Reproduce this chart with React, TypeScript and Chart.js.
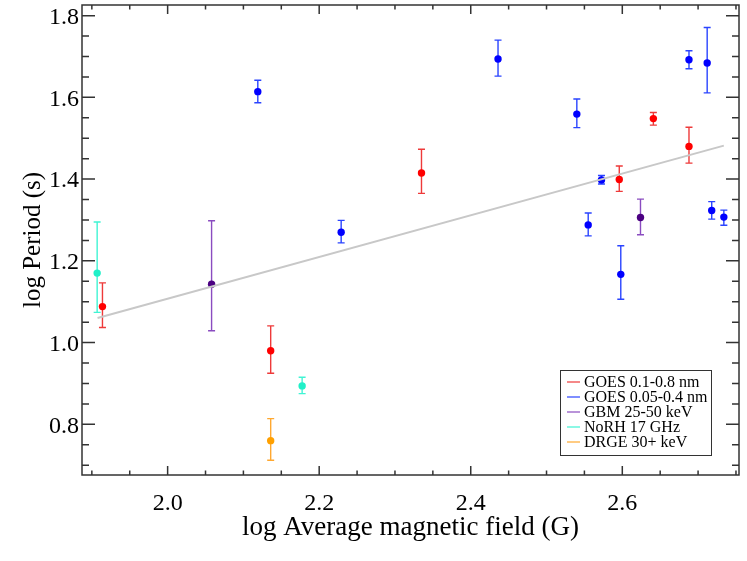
import { useEffect, useRef } from "react";
import { Chart, registerables } from "chart.js";

Chart.register(...registerables);

// ---- data (log B, log P, error low, error high) ----
const goes1X = [1.914, 2.136, 2.335, 2.596, 2.641, 2.688];
const goes1Y = [1.088, 0.98, 1.415, 1.399, 1.548, 1.48];
const goes1Lo = [1.037, 0.925, 1.365, 1.37, 1.532, 1.439];
const goes1Hi = [1.146, 1.041, 1.473, 1.432, 1.563, 1.527];

const goes2X = [2.119, 2.229, 2.436, 2.54, 2.555, 2.5725, 2.598, 2.688, 2.712, 2.718, 2.734];
const goes2Y = [1.614, 1.27, 1.694, 1.559, 1.288, 1.398, 1.167, 1.692, 1.684, 1.323, 1.307];
const goes2Lo = [1.587, 1.244, 1.652, 1.526, 1.261, 1.388, 1.106, 1.67, 1.611, 1.302, 1.287];
const goes2Hi = [1.642, 1.299, 1.74, 1.596, 1.317, 1.409, 1.237, 1.714, 1.771, 1.345, 1.324];

const gbmX = [2.058, 2.624];
const gbmY = [1.143, 1.306];
const gbmLo = [1.029, 1.264];
const gbmHi = [1.298, 1.351];

const norhX = [1.907, 2.1775];
const norhY = [1.17, 0.894];
const norhLo = [1.074, 0.875];
const norhHi = [1.295, 0.915];

const drgeX = [2.136];
const drgeY = [0.76];
const drgeLo = [0.712];
const drgeHi = [0.814];

const fitX = [1.9075, 2.734];
const fitY = [1.06, 1.482];

const xMajorTicks = [2.0, 2.2, 2.4, 2.6];
const xMinorTicks = [1.9, 1.95, 2.05, 2.1, 2.15, 2.25, 2.3, 2.35, 2.45, 2.5, 2.55, 2.65, 2.7, 2.75];
const yMajorTicks = [0.8, 1.0, 1.2, 1.4, 1.6, 1.8];
const yMinorTicks = [0.7, 0.75, 0.85, 0.9, 0.95, 1.05, 1.1, 1.15, 1.25, 1.3, 1.35, 1.45, 1.5, 1.55, 1.65, 1.7, 1.75];

const seriesNames = ["GOES 0.1-0.8 nm", "GOES 0.05-0.4 nm", "GBM 25-50 keV", "NoRH 17 GHz", "DRGE 30+ keV"];
const pointColors = ["#ff0000", "#0000ff", "#4b0082", "#20f0c8", "#ffa000"];
const barColors = ["#ee3a3a", "#2a44ff", "#8a4cc0", "#40f4d4", "#ffa830"];

const FONT = "'Liberation Serif', 'Times New Roman', serif";

function mk(xs: number[], ys: number[]) {
  return xs.map((x, i) => ({ x, y: ys[i] }));
}

const seriesLo = [goes1Lo, goes2Lo, gbmLo, norhLo, drgeLo];
const seriesHi = [goes1Hi, goes2Hi, gbmHi, norhHi, drgeHi];
const seriesX = [goes1X, goes2X, gbmX, norhX, drgeX];
const seriesY = [goes1Y, goes2Y, gbmY, norhY, drgeY];

const errorBarPlugin = {
  id: "errbars",
  beforeDatasetsDraw(chart: any) {
    const { ctx, scales } = chart;
    const xs = scales.x;
    const ys = scales.y;
    ctx.save();
    ctx.lineWidth = 1.4;
    for (let s = 0; s < seriesX.length; s++) {
      ctx.strokeStyle = barColors[s];
      for (let i = 0; i < seriesX[s].length; i++) {
        const px = xs.getPixelForValue(seriesX[s][i]);
        const pLo = ys.getPixelForValue(seriesLo[s][i]);
        const pHi = ys.getPixelForValue(seriesHi[s][i]);
        ctx.beginPath();
        ctx.moveTo(px, pLo);
        ctx.lineTo(px, pHi);
        ctx.moveTo(px - 3.5, pLo);
        ctx.lineTo(px + 3.5, pLo);
        ctx.moveTo(px - 3.5, pHi);
        ctx.lineTo(px + 3.5, pHi);
        ctx.stroke();
      }
    }
    ctx.restore();
  },
};

const framePlugin = {
  id: "frame",
  afterDraw(chart: any) {
    const { ctx, chartArea, scales } = chart;
    const { left, right, top, bottom } = chartArea;
    ctx.save();
    ctx.strokeStyle = "#333333";
    ctx.lineWidth = 1.5;
    ctx.strokeRect(left, top, right - left, bottom - top);
    ctx.beginPath();
    const xt = (v: number, len: number) => {
      const p = scales.x.getPixelForValue(v);
      ctx.moveTo(p, bottom);
      ctx.lineTo(p, bottom - len);
      ctx.moveTo(p, top);
      ctx.lineTo(p, top + len);
    };
    const yt = (v: number, len: number) => {
      const p = scales.y.getPixelForValue(v);
      ctx.moveTo(left, p);
      ctx.lineTo(left + len, p);
      ctx.moveTo(right, p);
      ctx.lineTo(right - len, p);
    };
    xMajorTicks.forEach((v) => xt(v, 9));
    xMinorTicks.forEach((v) => xt(v, 4.5));
    yMajorTicks.forEach((v) => yt(v, 13));
    yMinorTicks.forEach((v) => yt(v, 7));
    ctx.stroke();

    // legend
    const bx = 560, by = 370, bw = 151, bh = 85;
    ctx.fillStyle = "#ffffff";
    ctx.fillRect(bx, by, bw, bh);
    ctx.lineWidth = 1;
    ctx.strokeStyle = "#333333";
    ctx.strokeRect(bx + 0.5, by + 0.5, bw, bh);
    ctx.font = `16px ${FONT}`;
    ctx.textBaseline = "middle";
    ctx.textAlign = "left";
    seriesNames.forEach((name, i) => {
      const ry = by + 12 + i * 15;
      ctx.strokeStyle = barColors[i];
      ctx.lineWidth = 1.2;
      ctx.beginPath();
      ctx.moveTo(bx + 7, ry);
      ctx.lineTo(bx + 20, ry);
      ctx.stroke();
      ctx.fillStyle = "#000000";
      ctx.fillText(name, bx + 24, ry + 1);
    });
    ctx.restore();
  },
};

export default function App() {
  const ref = useRef<HTMLCanvasElement | null>(null);
  useEffect(() => {
    if (!ref.current) return;
    const datasets: any[] = [
      {
        type: "line",
        label: "fit",
        data: mk(fitX, fitY),
        borderColor: "#c8c8c8",
        borderWidth: 2,
        pointRadius: 0,
        fill: false,
      },
    ];
    seriesNames.forEach((name, s) => {
      datasets.push({
        type: "scatter",
        label: name,
        data: mk(seriesX[s], seriesY[s]),
        backgroundColor: pointColors[s],
        borderColor: pointColors[s],
        pointRadius: 3.7,
        pointBorderWidth: 0,
      });
    });
    const chart = new Chart(ref.current, {
      type: "scatter",
      data: { datasets },
      plugins: [errorBarPlugin, framePlugin],
      options: {
        animation: false,
        responsive: true,
        maintainAspectRatio: false,
        layout: { padding: { top: 5, right: 8, left: 0, bottom: 0 } },
        plugins: { legend: { display: false }, tooltip: { enabled: false } },
        scales: {
          x: {
            type: "linear",
            min: 1.887,
            max: 2.754,
            grid: { display: false, drawTicks: false, tickLength: 0 },
            border: { display: false },
            afterBuildTicks: (scale: any) => {
              scale.ticks = xMajorTicks.map((v) => ({ value: v }));
            },
            afterFit: (scale: any) => {
              scale.height = 86;
              scale.paddingLeft = 0;
              scale.paddingRight = 0;
            },
            ticks: {
              autoSkip: false,
              maxRotation: 0,
              padding: 14,
              color: "#000",
              font: { family: FONT, size: 24 },
              callback: (v: any) => Number(v).toFixed(1),
            },
            title: {
              display: true,
              text: "log Average magnetic field (G)",
              color: "#000",
              font: { family: FONT, size: 27 },
              padding: { top: 0, bottom: 17 },
            },
          },
          y: {
            type: "linear",
            min: 0.676,
            max: 1.826,
            grid: { display: false, drawTicks: false, tickLength: 0 },
            border: { display: false },
            afterBuildTicks: (scale: any) => {
              scale.ticks = yMajorTicks.map((v) => ({ value: v }));
            },
            afterFit: (scale: any) => {
              scale.width = 82;
              scale.paddingTop = 0;
              scale.paddingBottom = 0;
            },
            ticks: {
              autoSkip: false,
              padding: 3,
              labelOffset: 2,
              color: "#000",
              font: { family: FONT, size: 24 },
              callback: (v: any) => Number(v).toFixed(1),
            },
            title: {
              display: true,
              text: "log Period (s)",
              color: "#000",
              font: { family: FONT, size: 25 },
              padding: { top: 18, bottom: 0 },
            },
          },
        },
      },
    });
    return () => chart.destroy();
  }, []);
  return (
    <div style={{ position: "absolute", left: 0, top: 0, width: 747, height: 561, background: "#fff" }}>
      <canvas ref={ref} />
    </div>
  );
}
